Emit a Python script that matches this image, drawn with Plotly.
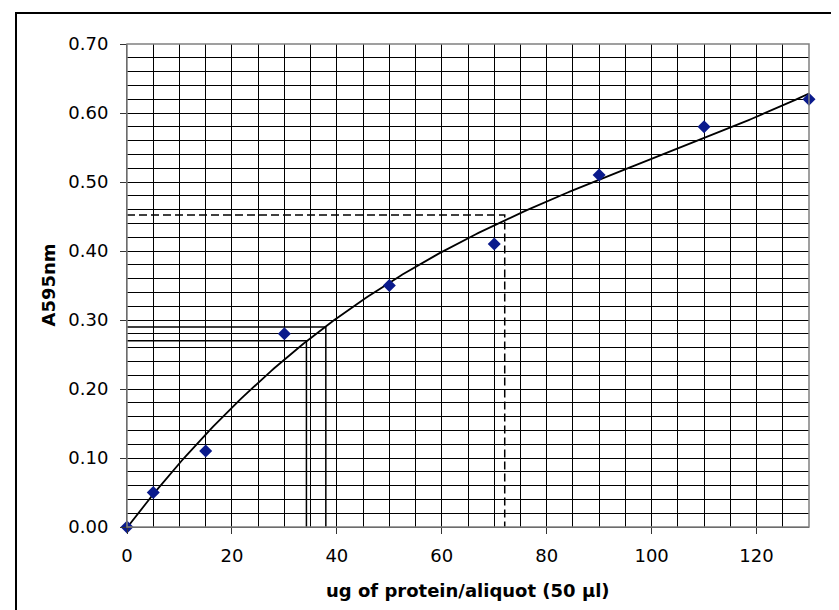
import numpy as np
import plotly.graph_objects as go

# measured data points (ug protein per aliquot, absorbance at 595 nm)
protein_ug = [0, 5, 15, 30, 50, 70, 90, 110, 130]
absorbance = [0.00, 0.05, 0.11, 0.28, 0.35, 0.41, 0.51, 0.58, 0.62]

# read-off reference lines (x, y)
solid_ref_x = [34.2, 37.9]
solid_ref_y = [0.27, 0.29]
dashed_ref_x = [72]
dashed_ref_y = [0.452]

x_ticks = [0, 20, 40, 60, 80, 100, 120]
y_ticks = [0.0, 0.1, 0.2, 0.3, 0.4, 0.5, 0.6, 0.7]

FONT = "DejaVu Sans"

# 3rd-order polynomial trendline fitted to the data (as in the original spreadsheet chart)
coef = np.polyfit(protein_ug, absorbance, 3)
fit_x = np.linspace(0, 130, 261)
fit_y = np.polyval(coef, fit_x)

fig = go.Figure()

for rx, ry in zip(solid_ref_x, solid_ref_y):
    fig.add_trace(go.Scatter(x=[0, rx, rx], y=[ry, ry, 0], mode="lines",
                             line=dict(color="black", width=1.5), hoverinfo="skip", showlegend=False))
for rx, ry in zip(dashed_ref_x, dashed_ref_y):
    fig.add_trace(go.Scatter(x=[0, rx, rx], y=[ry, ry, 0], mode="lines",
                             line=dict(color="black", width=1.5, dash="8px,4px"), hoverinfo="skip", showlegend=False))

fig.add_trace(go.Scatter(x=fit_x, y=fit_y, mode="lines",
                         line=dict(color="black", width=1.8), showlegend=False))

fig.add_trace(go.Scatter(x=protein_ug, y=absorbance, mode="markers",
                         marker=dict(symbol="diamond", size=10, color="#0a1a8c"),
                         showlegend=False, cliponaxis=False))

fig.update_layout(
    width=839, height=610,
    margin=dict(l=119, r=38, t=36, b=91),
    paper_bgcolor="white", plot_bgcolor="white",
    font=dict(family=FONT, size=18, color="black"),
    showlegend=False,
    xaxis=dict(range=[0, 130], tickvals=x_ticks, ticktext=[str(v) for v in x_ticks],
               showgrid=True, gridcolor="black", gridwidth=1,
               minor=dict(dtick=5, tick0=0, showgrid=True, gridcolor="black", gridwidth=1),
               ticks="outside", ticklen=6, tickcolor="#333", showline=True, linecolor="#333",
               linewidth=1, zeroline=False, ticklabelstandoff=6),
    yaxis=dict(range=[0, 0.7], tickvals=y_ticks, ticktext=[f"{v:.2f}" for v in y_ticks],
               showgrid=True, gridcolor="black", gridwidth=1,
               minor=dict(dtick=0.02, tick0=0, showgrid=True, gridcolor="black", gridwidth=1),
               ticks="outside", ticklen=6, tickcolor="#333", showline=True, linecolor="#333",
               linewidth=1, zeroline=False, ticklabelstandoff=8),
    shapes=[
        dict(type="rect", xref="paper", yref="paper", x0=0, x1=1, y0=0, y1=1,
             line=dict(color="#808080", width=1.5), layer="above"),
        dict(type="rect", xref="paper", yref="paper", x0=(8 - 119) / 682, x1=(835.5 - 119) / 682,
             y0=(519 - 640) / 483, y1=(519 - 5) / 483, line=dict(color="black", width=2)),
    ],
    annotations=[
        dict(text="<b>ug of protein/aliquot (50 µl)</b>", xref="paper", yref="paper",
             x=0.5, y=0, xanchor="center", yanchor="middle", yshift=-63, showarrow=False,
             font=dict(size=18)),
        dict(text="<b>A595nm</b>", xref="paper", yref="paper", x=0, y=0.5,
             xanchor="center", yanchor="middle", xshift=-79, textangle=-90, showarrow=False,
             font=dict(size=18)),
    ],
)

fig.write_html("out.html")
